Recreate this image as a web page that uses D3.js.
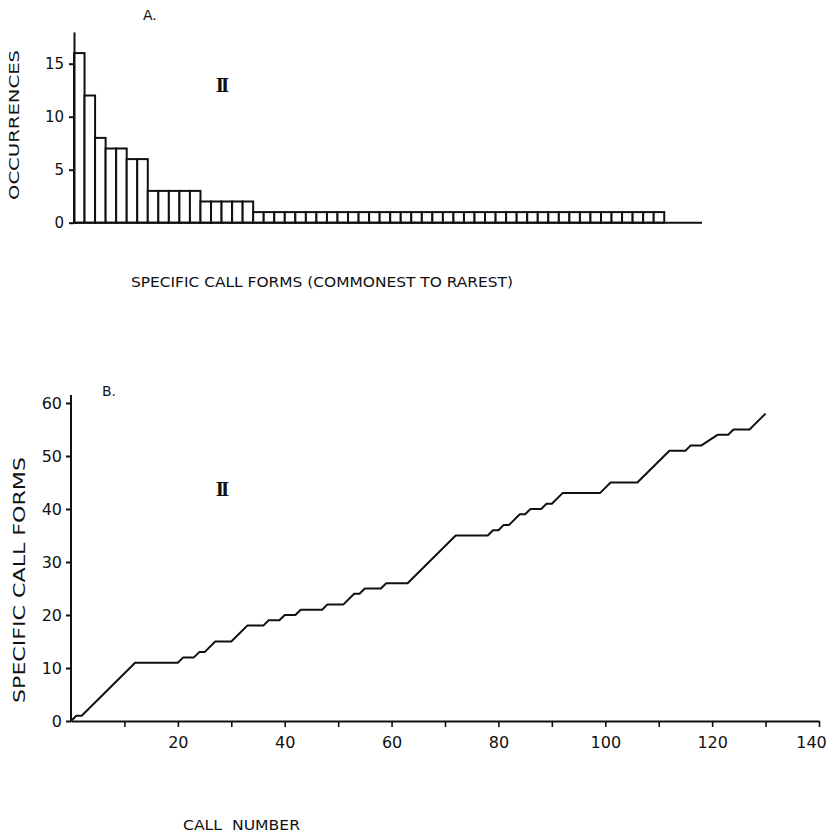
<!DOCTYPE html>
<html>
<head>
<meta charset="utf-8">
<script src="https://cdn.jsdelivr.net/npm/d3@7"></script>
<style>
  html, body { margin: 0; padding: 0; background: #fff; }
  svg { display: block; }
  text { font-family: "DejaVu Sans", "Liberation Sans", sans-serif; fill: #111; }
</style>
</head>
<body>
<svg id="fig" width="832" height="836"></svg>
<script>
// Panel A: occurrences of each specific call form, commonest to rarest
const formCounts = [
  16, 12, 8, 7, 7, 6, 6,
  3, 3, 3, 3, 3,
  2, 2, 2, 2, 2,
  1, 1, 1, 1, 1, 1, 1, 1, 1, 1,
  1, 1, 1, 1, 1, 1, 1, 1, 1, 1,
  1, 1, 1, 1, 1, 1, 1, 1, 1, 1,
  1, 1, 1, 1, 1, 1, 1, 1, 1
];
const occurrenceTicks = [0, 5, 10, 15];

// Panel B: cumulative number of specific call forms against call number
const callNumber = [0, 1, 2, 12, 20, 21, 23, 24, 25, 27, 30, 33, 36, 37, 39, 40, 42, 43,
  47, 48, 51, 53, 54, 55, 58, 59, 63, 72, 78, 79, 80, 81, 82, 84, 85, 86, 88, 89, 90,
  92, 99, 101, 106, 112, 115, 116, 118, 121, 123, 124, 127, 130];
const cumulativeForms = [0, 1, 1, 11, 11, 12, 12, 13, 13, 15, 15, 18, 18, 19, 19, 20, 20, 21,
  21, 22, 22, 24, 24, 25, 25, 26, 26, 35, 35, 36, 36, 37, 37, 39, 39, 40, 40, 41, 41,
  43, 43, 45, 45, 51, 51, 52, 52, 54, 54, 55, 55, 58];
const callTicks = [10, 20, 30, 40, 50, 60, 70, 80, 90, 100, 110, 120, 130, 140];
const callTickLabels = [20, 40, 60, 80, 100, 120, 140];
const formTicks = [0, 10, 20, 30, 40, 50, 60];

const svg = d3.select("#fig");
const ink = "#111";

// ---------- Panel A ----------
const gA = svg.append("g");
const xA = d3.scaleBand()
  .domain(d3.range(formCounts.length))
  .range([74, 74 + formCounts.length * 10.54])
  .padding(0);
const yA = d3.scaleLinear().domain([0, 18]).range([222.7, 222.7 - 18 * 10.6]);

gA.selectAll("rect.bar")
  .data(formCounts)
  .join("rect")
  .attr("class", "bar")
  .attr("x", (d, i) => xA(i))
  .attr("width", xA.bandwidth())
  .attr("y", d => yA(d))
  .attr("height", d => yA(0) - yA(d))
  .attr("fill", "#fff")
  .attr("stroke", ink)
  .attr("stroke-width", 2);

const axisA = gA.append("g")
  .attr("transform", `translate(${xA.range()[0]},0)`)
  .call(d3.axisLeft(yA).tickValues(occurrenceTicks).tickSize(5).tickSizeOuter(0).tickPadding(5));
axisA.select(".domain").attr("stroke", ink).attr("stroke-width", 2);
axisA.selectAll(".tick line").attr("stroke", ink).attr("stroke-width", 2);
axisA.selectAll(".tick text").style("font-size", "15px").attr("fill", ink);

// baseline of panel A
gA.append("line")
  .attr("x1", xA.range()[0]).attr("x2", 702)
  .attr("y1", yA(0)).attr("y2", yA(0))
  .attr("stroke", ink).attr("stroke-width", 2);

gA.append("text").attr("x", 143).attr("y", 20).style("font-size", "14px").text("A.");
gA.append("text")
  .attr("transform", "translate(19,125) rotate(-90)")
  .attr("text-anchor", "middle")
  .attr("textLength", 150).attr("lengthAdjust", "spacingAndGlyphs")
  .style("font-size", "14px")
  .text("OCCURRENCES");
gA.append("text")
  .attr("x", 131).attr("y", 287)
  .attr("textLength", 382).attr("lengthAdjust", "spacingAndGlyphs")
  .style("font-size", "13.5px")
  .text("SPECIFIC CALL FORMS (COMMONEST TO RAREST)");
gA.append("text")
  .attr("x", 221).attr("y", 92)
  .attr("text-anchor", "middle")
  .style("font-family", "'Liberation Serif', 'DejaVu Serif', serif")
  .style("font-weight", "bold")
  .style("font-size", "21px")
  .style("letter-spacing", "-3px")
  .text("II");

// ---------- Panel B ----------
const gB = svg.append("g");
const xB = d3.scaleLinear().domain([0, 140]).range([71, 819]);
const yB = d3.scaleLinear().domain([0, 60]).range([721, 403]);

const axisBx = gB.append("g")
  .attr("transform", `translate(0,${yB(0)})`)
  .call(d3.axisBottom(xB).tickValues(callTicks).tickSize(6).tickSizeOuter(0).tickPadding(10)
    .tickFormat(d => callTickLabels.includes(d) ? d : ""));
axisBx.select(".domain").attr("stroke", ink).attr("stroke-width", 2);
axisBx.selectAll(".tick line").attr("stroke", ink).attr("stroke-width", 1.6);
axisBx.selectAll(".tick text").style("font-size", "16px").attr("fill", ink)
  .attr("dx", d => d === 140 ? -8 : 0);

const axisBy = gB.append("g")
  .attr("transform", `translate(${xB(0)},0)`)
  .call(d3.axisLeft(yB).tickValues(formTicks).tickSize(5).tickSizeOuter(0).tickPadding(4));
axisBy.select(".domain").remove();
axisBy.selectAll(".tick line").attr("stroke", ink).attr("stroke-width", 2);
axisBy.selectAll(".tick text").style("font-size", "16px").attr("fill", ink);
gB.append("line")
  .attr("x1", xB(0)).attr("x2", xB(0))
  .attr("y1", yB(0)).attr("y2", yB(61.5))
  .attr("stroke", ink).attr("stroke-width", 2);

const curve = d3.line()
  .x((d, i) => xB(callNumber[i]))
  .y(d => yB(d));
gB.append("path")
  .attr("d", curve(cumulativeForms))
  .attr("fill", "none")
  .attr("stroke", ink)
  .attr("stroke-width", 2)
  .attr("stroke-linejoin", "round");

gB.append("text").attr("x", 102).attr("y", 396).style("font-size", "14px").text("B.");
gB.append("text")
  .attr("transform", "translate(25,580) rotate(-90)")
  .attr("text-anchor", "middle")
  .attr("textLength", 246).attr("lengthAdjust", "spacingAndGlyphs")
  .style("font-size", "15px")
  .text("SPECIFIC CALL FORMS");
gB.append("text")
  .attr("x", 183).attr("y", 830)
  .attr("textLength", 117).attr("lengthAdjust", "spacingAndGlyphs")
  .style("font-size", "13.5px")
  .attr("xml:space", "preserve")
  .text("CALL  NUMBER");
gB.append("text")
  .attr("x", 221).attr("y", 496)
  .attr("text-anchor", "middle")
  .style("font-family", "'Liberation Serif', 'DejaVu Serif', serif")
  .style("font-weight", "bold")
  .style("font-size", "21px")
  .style("letter-spacing", "-3px")
  .text("II");
</script>
</body>
</html>
